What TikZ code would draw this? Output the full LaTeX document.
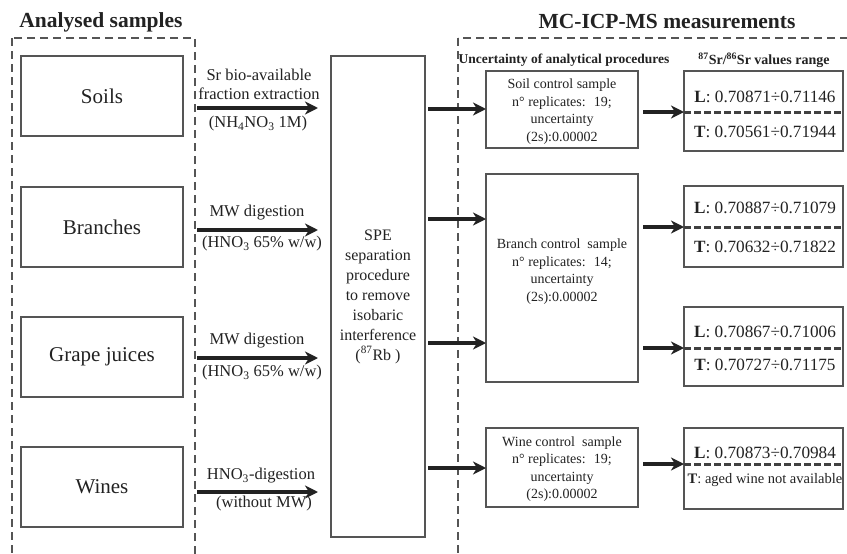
\documentclass[tikz,border=0pt]{standalone}
\usepackage{fontspec}
\setmainfont{Liberation Serif}
\usetikzlibrary{arrows.meta,calc}
\definecolor{boxgray}{HTML}{555555}
\definecolor{txt}{HTML}{222222}
\begin{document}
\begin{tikzpicture}[x=1pt,y=-1pt,
  every node/.style={text=txt,inner sep=0pt,outer sep=0pt},
  frame/.style={draw=boxgray,line width=2pt,dash pattern=on 8pt off 5pt},
  box/.style={draw=boxgray,line width=2pt,align=center},
  sample/.style={box,minimum width=162pt,minimum height=80pt,font=\fontsize{21}{24}\selectfont},
  title/.style={font=\fontsize{21.5}{24}\selectfont\bfseries},
  hdr/.style={font=\fontsize{13.5}{16}\selectfont\bfseries},
  lab/.style={align=center,font=\fontsize{16.5}{19.5}\selectfont},
  ubox/.style={box,minimum width=152pt},
  utext/.style={align=center,font=\fontsize{14}{17.5}\selectfont},
  rbox/.style={box,minimum width=159pt},
  rtext/.style={font=\fontsize{17.2}{20}\selectfont},
  divline/.style={draw=black!75,line width=3pt,dash pattern=on 7pt off 3pt},
  arr/.style={draw=txt,line width=3.2pt,-{Stealth[length=13pt,width=13pt,inset=4pt]}}
]
\useasboundingbox (0,0) rectangle (847,554);
\clip (0,0) rectangle (847,554);
\fill[white] (0,0) rectangle (847,554);

% titles
\node[title] (ltitle) at (101,22) {Analysed samples};
\node[title] (rtitle) at (667,22) {MC-ICP-MS measurements};

% dashed frames
\draw[frame] (12,38) rectangle (195,575);
\draw[frame] (458,38) rectangle (870,575);

% samples
\node[sample] (soils) at (102,96) {Soils};
\node[sample] (branches) at (102,227) {Branches};
\node[sample] (grapes) at (102,357) {Grape juices};
\node[sample] (wines) at (102,487) {Wines};

% SPE box
\node[box,minimum width=94pt,minimum height=481pt,font=\fontsize{16}{20}\selectfont] (spe) at (378,296.5)
  {SPE\\separation\\procedure\\to remove\\isobaric\\interference\\(\textsuperscript{87}Rb )};

% left arrows and labels
\coordinate (a1) at (197,108);
\coordinate (a2) at (197,230);
\coordinate (a3) at (197,358);
\coordinate (a4) at (197,492);
\draw[arr,shorten >=13pt] (a1) -- (a1 -| spe.west);
\draw[arr,shorten >=13pt] (a2) -- (a2 -| spe.west);
\draw[arr,shorten >=13pt] (a3) -- (a3 -| spe.west);
\draw[arr,shorten >=13pt] (a4) -- (a4 -| spe.west);

\node[lab] (l1a) at (259,84.5) {Sr bio-available\\fraction extraction};
\node[lab] (l1b) at (258,124) {(NH\textsubscript{4}NO\textsubscript{3} 1M)};
\node[lab] (l2a) at (257,213) {MW digestion};
\node[lab] (l2b) at (262,244) {(HNO\textsubscript{3} 65\% w/w)};
\node[lab] (l3a) at (257,341) {MW digestion};
\node[lab] (l3b) at (262,373) {(HNO\textsubscript{3} 65\% w/w)};
\node[lab] (l4a) at (261,476) {HNO\textsubscript{3}-digestion};
\node[lab] (l4b) at (264,504) {(without MW)};

% headers
\node[hdr] (uhdr) at (564,60) {Uncertainty of analytical procedures};
\node[font=\fontsize{14}{16}\selectfont\bfseries] (rhdr) at (764,60) {\textsuperscript{87}Sr/\textsuperscript{86}Sr values range};

% uncertainty boxes
\node[ubox,minimum height=77pt] (soilu) at (562,109.5) {};
\node[utext] (soilut) at (562,111.5) {Soil control sample\\n° replicates: \ 19;\\uncertainty\\(2s):0.00002};
\node[ubox,minimum height=208pt] (branchu) at (562,278) {};
\node[utext] (branchut) at (562,271.5) {Branch control \ sample\\n° replicates: \ 14;\\uncertainty\\(2s):0.00002};
\node[ubox,minimum height=79pt] (wineu) at (562,467.5) {};
\node[utext] (wineut) at (562,469) {Wine control \ sample\\n° replicates: \ 19;\\uncertainty\\(2s):0.00002};

% arrows SPE -> uncertainty
\coordinate (y1) at (0,109);
\coordinate (y2) at (0,219);
\coordinate (y3) at (0,343);
\coordinate (y4) at (0,468);
\draw[arr,shorten <=3pt] (spe.east |- y1) -- (soilu.west |- y1);
\draw[arr,shorten <=3pt] (spe.east |- y2) -- (branchu.west |- y2);
\draw[arr,shorten <=3pt] (spe.east |- y3) -- (branchu.west |- y3);
\draw[arr,shorten <=3pt] (spe.east |- y4) -- (wineu.west |- y4);

% range boxes
\node[rbox,minimum height=80pt] (soilr) at (763.5,111) {};
\node[rbox,minimum height=81pt] (branchr) at (763.5,226.5) {};
\node[rbox,minimum height=79pt] (graper) at (763.5,346.5) {};
\node[rbox,minimum height=81pt] (winer) at (763.5,468.5) {};

\coordinate (d1) at (684,112);
\coordinate (d2) at (684,227);
\coordinate (d3) at (684,348);
\coordinate (d4) at (684,464);
\draw[divline] (d1) -- (d1 -| soilr.east);
\draw[divline] (d2) -- (d2 -| branchr.east);
\draw[divline] (d3) -- (d3 -| graper.east);
\draw[divline] (d4) -- (d4 -| winer.east);

\node[rtext] (soilL) at (765,97) {\textbf{L}: 0.70871÷0.71146};
\node[rtext] (soilT) at (765,132) {\textbf{T}: 0.70561÷0.71944};
\node[rtext] (branchL) at (765,208) {\textbf{L}: 0.70887÷0.71079};
\node[rtext] (branchT) at (765,247) {\textbf{T}: 0.70632÷0.71822};
\node[rtext] (grapeL) at (765,332) {\textbf{L}: 0.70867÷0.71006};
\node[rtext] (grapeT) at (765,365) {\textbf{T}: 0.70727÷0.71175};
\node[rtext] (wineL) at (765,453) {\textbf{L}: 0.70873÷0.70984};
\node[font=\fontsize{14.5}{18}\selectfont] (wineT) at (765,480) {\textbf{T}: aged wine not available};

% arrows uncertainty -> range
\draw[arr,shorten <=5pt] (soilu.east |- d1) -- (d1);
\draw[arr,shorten <=5pt] (branchu.east |- d2) -- (d2);
\draw[arr,shorten <=5pt] (branchu.east |- d3) -- (d3);
\draw[arr,shorten <=5pt] (wineu.east |- d4) -- (d4);
\end{tikzpicture}
\end{document}
